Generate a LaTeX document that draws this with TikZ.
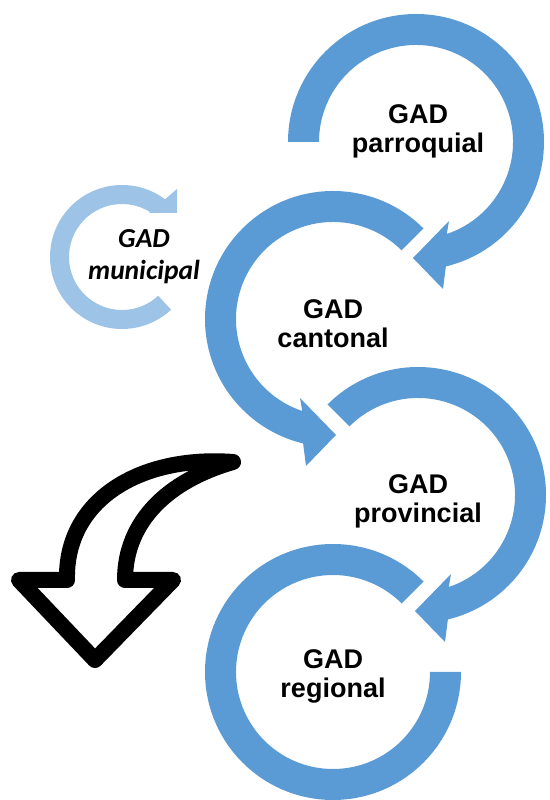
\documentclass[tikz,border=0pt]{standalone}
\usepackage{fontspec}
\setmainfont{Liberation Sans}
\newfontfamily\carlitofont{Carlito}
\usetikzlibrary{calc}
\definecolor{ringblue}{HTML}{5B9BD5}
\definecolor{ringlight}{HTML}{9DC3E6}
\begin{document}
\begin{tikzpicture}[x=1pt,y=1pt,
  ring/.style={fill=ringblue,draw=none},
  lightring/.style={fill=ringlight,draw=none},
  lbl/.style={font=\bfseries\fontsize{27}{29}\selectfont,align=center,inner sep=0pt},
  mlbl/.style={font=\carlitofont\bfseries\itshape\fontsize{27.5}{32}\selectfont,align=center,inner sep=0pt},
  bigarrow/.style={draw=black,line width=16pt,line join=round,fill=white}]
\useasboundingbox (0,0) rectangle (549,800);
\coordinate (c1) at (416,658);
\coordinate (c2) at (333,481);
\coordinate (c3) at (418,305);
\coordinate (c4) at (333,128);
\coordinate (s) at (122,543);
% ring 1 (parroquial)
\fill[ring] ($(c1)+(180:128)$) arc[start angle=180,end angle=-76.5,radius=128]
  -- ($(c1)+(27,-147)$) -- ($(c1)+(-3,-116)$) -- ($(c1)+(33,-79)$)
  -- ($(c1)+(-71.5:97)$) arc[start angle=-71.5,end angle=180,radius=97] -- cycle;
% ring 2 (cantonal)
\fill[ring] ($(c2)+(45:128)$) arc[start angle=45,end angle=256.5,radius=128]
  -- ($(c2)+(-27,-147)$) -- ($(c2)+(3,-116)$) -- ($(c2)+(-33,-79)$)
  -- ($(c2)+(251.5:97)$) arc[start angle=251.5,end angle=45,radius=97] -- cycle;
% ring 3 (provincial)
\fill[ring] ($(c3)+(135:128)$) arc[start angle=135,end angle=-76.5,radius=128]
  -- ($(c3)+(27,-147)$) -- ($(c3)+(-3,-116)$) -- ($(c3)+(33,-79)$)
  -- ($(c3)+(-71.5:97)$) arc[start angle=-71.5,end angle=135,radius=97] -- cycle;
% ring 4 (regional)
\fill[ring] ($(c4)+(45:128)$) arc[start angle=45,end angle=360,radius=128]
  -- ($(c4)+(0:97)$) arc[start angle=360,end angle=45,radius=97] -- cycle;
% small ring (municipal)
\fill[lightring] ($(s)+(-47:72)$) arc[start angle=-47,end angle=-306.7,radius=72]
  -- ($(s)+(55,68)$) -- ($(s)+(55,44)$) -- ($(s)+(27,44)$)
  -- ($(s)+(-302:53)$) arc[start angle=-302,end angle=-47,radius=53] -- cycle;
% black curved arrow
\draw[bigarrow] (233,338) .. controls (140,345) and (65,300) .. (67,220)
  -- (19,220) -- (95,140) -- (173,220) -- (125,220)
  .. controls (125,280) and (170,320) .. (233,338) -- cycle;
% labels
\node[lbl] (parroquial) at (418,668) {\strut GAD\\\strut parroquial};
\node[lbl] (cantonal) at (333,473) {\strut GAD\\\strut cantonal};
\node[lbl] (provincial) at (418,298) {\strut GAD\\\strut provincial};
\node[lbl] (regional) at (333,123) {\strut GAD\\\strut regional};
\node[mlbl] (municipal) at (144,542.4) {\strut GAD\\\strut municipal};
\end{tikzpicture}
\end{document}
